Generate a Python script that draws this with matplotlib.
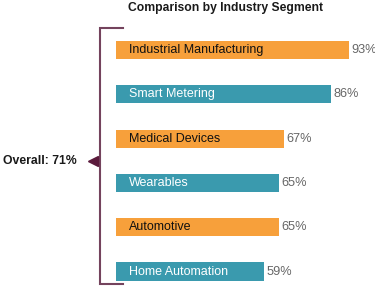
import matplotlib.pyplot as plt

# data
segments = ['Industrial Manufacturing', 'Smart Metering', 'Medical Devices',
            'Wearables', 'Automotive', 'Home Automation']
values = [93, 86, 67, 65, 65, 59]
overall = 71

ORANGE = '#f7a03b'
TEAL = '#3a9aae'
BRACKET = '#74435d'
MARKER = '#5b1a3c'

plt.rcParams['font.family'] = ['Liberation Sans', 'DejaVu Sans']

fig = plt.figure(figsize=(3.75, 2.99), dpi=100)
ax = fig.add_axes([0, 0, 1, 1])
ax.set_xlim(-46.4, 103.6)
ax.set_ylim(5.62, -1.13)
ax.axis('off')

colors = [ORANGE if i % 2 == 0 else TEAL for i in range(len(segments))]
txtcol = ['#111111' if i % 2 == 0 else 'white' for i in range(len(segments))]
ypos = list(range(len(segments)))
ax.barh(ypos, values, height=0.41, color=colors)

for y, v, name, tc in zip(ypos, values, segments, txtcol):
    ax.text(5.2, y, name, color=tc, fontsize=9, va='center', ha='left')
    ax.text(v + 1.1, y, '%d%%' % v, color='#666666', fontsize=9.2,
            va='center', ha='left')

# bracket
ax.plot([2.8, -6.4, -6.4, 2.8], [-0.5, -0.5, 5.28, 5.28],
        color=BRACKET, lw=1.5, solid_joinstyle='miter')
ax.plot([-9.4], [2.5], marker='<', color=MARKER, markersize=6.5, clip_on=False)
ax.text(-15.6, 2.5, 'Overall: %d%%' % overall, fontsize=8.8, fontweight='bold',
        ha='right', va='center', color='#1a1a1a')

ax.text(44, -0.95, 'Comparison by Industry Segment', fontsize=8.7,
        fontweight='bold', ha='center', va='center', color='#1a1a1a')

fig.savefig('out.png', dpi=100)
